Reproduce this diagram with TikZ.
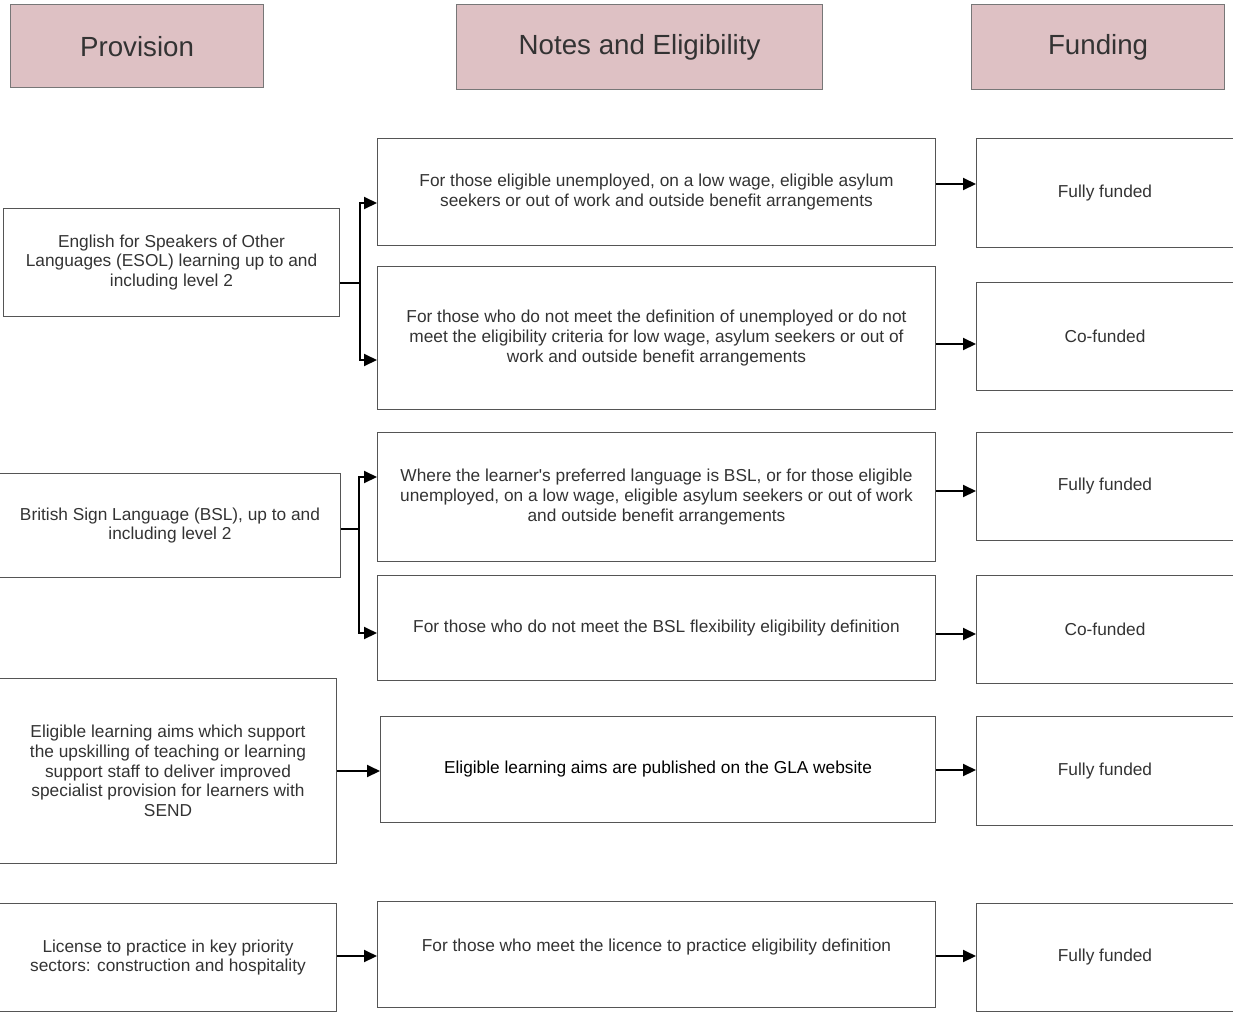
\documentclass[tikz,border=0pt]{standalone}
\usepackage{fontspec}
\setmainfont{Liberation Sans}
\usetikzlibrary{arrows.meta,calc}
\definecolor{headfill}{HTML}{DEC1C4}
\definecolor{headline}{HTML}{777777}
\definecolor{boxline}{HTML}{555555}
\definecolor{txt}{HTML}{333333}
\tikzset{
  hbox/.style={draw=headline, fill=headfill, line width=1.2pt, anchor=north west, inner sep=0pt,
    text=txt, font=\fontsize{27.7}{32}\selectfont},
  cbox/.style={draw=boxline, line width=1pt, anchor=north west, inner sep=0pt, align=center,
    text=txt, font=\fontsize{17.3}{19.6}\selectfont},
  arr/.style={line width=2pt, -{Triangle[length=13pt,width=12pt]}},
  fork/.style={line width=2pt},
}
\begin{document}
\begin{tikzpicture}[x=1pt,y=-1pt]
\useasboundingbox (0,0) rectangle (1233,1012);
% headers
\node[hbox, minimum width=253pt, minimum height=83pt] (hp) at (10,4) {Provision};
\node[hbox, minimum width=366pt, minimum height=85pt] (hn) at (456,4) {Notes and Eligibility};
\node[hbox, minimum width=253pt, minimum height=85pt] (hf) at (971,4) {Funding};
% provision column
\node[cbox, minimum width=336pt, minimum height=108pt] (esol) at (3,208) {English for Speakers of Other\\Languages (ESOL) learning up to and\\including level 2};
\node[cbox, minimum width=341pt, minimum height=104pt] (bsl) at (-1,473) {British Sign Language (BSL), up to and\\including level 2};
\node[cbox, minimum width=337pt, minimum height=185pt] (send) at (-1,678) {Eligible learning aims which support\\the upskilling of teaching or learning\\support staff to deliver improved\\specialist provision for learners with\\SEND};
\node[cbox, minimum width=337pt, minimum height=108pt] (lic) at (-1,903) {License to practice in key priority\\sectors: construction and hospitality};
% notes column
\node[cbox, minimum width=558pt, minimum height=107pt] (m1) at (377,138) {For those eligible unemployed, on a low wage, eligible asylum\\seekers or out of work and outside benefit arrangements};
\node[cbox, minimum width=558pt, minimum height=143pt] (m2) at (377,266) {For those who do not meet the definition of unemployed or do not\\meet the eligibility criteria for low wage, asylum seekers or out of\\work and outside benefit arrangements};
\node[cbox, minimum width=558pt, minimum height=129pt] (m3) at (377,432) {Where the learner\textquotesingle s preferred language is BSL, or for those eligible\\unemployed, on a low wage, eligible asylum seekers or out of work\\and outside benefit arrangements};
\node[cbox, minimum width=558pt, minimum height=105pt] (m4) at (377,575) {For those who do not meet the BSL flexibility eligibility definition};
\node[cbox, minimum width=555pt, minimum height=106pt, text=black] (m5) at (380,716) {Eligible learning aims are published on the GLA website};
\node[cbox, minimum width=558pt, minimum height=106pt, text depth=18pt] (m6) at (377,901) {For those who meet the licence to practice eligibility definition};
% funding column
\node[cbox, minimum width=264pt, minimum height=109pt] (r1) at (976,138) {\hspace*{-7pt}Fully funded};
\node[cbox, minimum width=264pt, minimum height=108pt] (r2) at (976,282) {\hspace*{-7pt}Co-funded};
\node[cbox, minimum width=264pt, minimum height=108pt] (r3) at (976,432) {\hspace*{-7pt}Fully funded};
\node[cbox, minimum width=264pt, minimum height=108pt] (r4) at (976,575) {\hspace*{-7pt}Co-funded};
\node[cbox, minimum width=264pt, minimum height=109pt] (r5) at (976,716) {\hspace*{-7pt}Fully funded};
\node[cbox, minimum width=264pt, minimum height=108pt] (r6) at (976,903) {\hspace*{-7pt}Fully funded};
% ESOL fork
\path (esol.north east) ++(0,75) coordinate (e0);
\path (e0) ++(20,0) coordinate (ej);
\path (m1.north west) ++(0,65) coordinate (t1);
\path (m2.north west) ++(0,94) coordinate (t2);
\draw[fork] (e0) -- (ej);
\draw[arr] (ej) |- (t1);
\draw[arr] (ej) |- (t2);
% BSL fork
\path (bsl.north east) ++(0,56) coordinate (b0);
\path (b0) ++(18,0) coordinate (bj);
\path (m3.north west) ++(0,45) coordinate (t3);
\path (m4.north west) ++(0,58) coordinate (t4);
\draw[fork] (b0) -- (bj);
\draw[arr] (bj) |- (t3);
\draw[arr] (bj) |- (t4);
% single arrows
\draw[arr] (send.east) -- (send.east -| m5.west);
\path (lic.north east) ++(0,53) coordinate (l0);
\draw[arr] (l0) -- (l0 -| m6.west);
% funding arrows
\path (m1.north east) ++(0,46) coordinate (a1);
\draw[arr] (a1) -- (a1 -| r1.west);
\path (m2.north east) ++(0,78) coordinate (a2);
\draw[arr] (a2) -- (a2 -| r2.west);
\path (m3.north east) ++(0,59) coordinate (a3);
\draw[arr] (a3) -- (a3 -| r3.west);
\path (m4.north east) ++(0,59) coordinate (a4);
\draw[arr] (a4) -- (a4 -| r4.west);
\path (m5.north east) ++(0,54) coordinate (a5);
\draw[arr] (a5) -- (a5 -| r5.west);
\path (m6.north east) ++(0,55) coordinate (a6);
\draw[arr] (a6) -- (a6 -| r6.west);
\end{tikzpicture}
\end{document}
